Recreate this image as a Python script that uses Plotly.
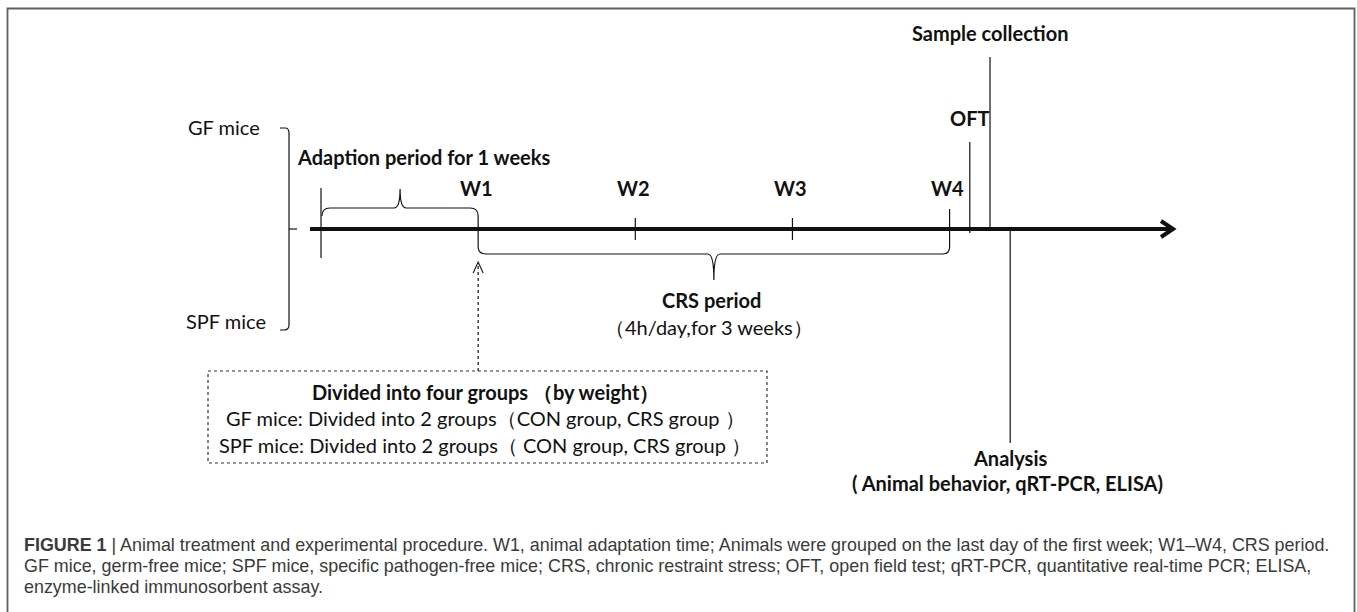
import plotly.graph_objects as go

# ---------------- content ----------------
week_labels = ["W1", "W2", "W3", "W4"]
week_days = [7, 14, 21, 28]
start_day = 0
oft_day = 28.9
sample_day = 29.8
analysis_day = 30.7

group_labels = ["GF mice", "SPF mice"]
adaption_text = "Adaption period for 1 weeks"
crs_title = "CRS period"
crs_sub = "（4h/day,for 3 weeks）"
box_lines = [
    "<b>Divided into four groups （by weight）</b>",
    "GF mice: Divided into 2 groups（CON group, CRS group ）",
    "SPF mice: Divided into 2 groups（ CON group, CRS group ）",
]
oft_text = "OFT"
sample_text = "Sample collection"
analysis_lines = ["Analysis", "( Animal behavior, qRT-PCR, ELISA)"]
caption_lines = [
    "<b>FIGURE 1</b> | Animal treatment and experimental procedure. W1, animal adaptation time; Animals were grouped on the last day of the first week; W1–W4, CRS period.",
    "GF mice, germ-free mice; SPF mice, specific pathogen-free mice; CRS, chronic restraint stress; OFT, open field test; qRT-PCR, quantitative real-time PCR; ELISA,",
    "enzyme-linked immunosorbent assay.",
]

# ---------------- layout helpers ----------------
W, H = 1357, 612
PX_PER_DAY = 22.45
X0 = 321.0
LINE_Y = 229


def dx(day):
    return X0 + PX_PER_DAY * day


FONT = "Lato, Calibri, Carlito, 'Noto Sans', sans-serif"
CAP_FONT = "'Liberation Sans', Arial, Helvetica, sans-serif"
INK = "#111111"
FS = 20

fig = go.Figure()
shapes = []
ann = []


def line(x0, y0, x1, y1, w=1.2, dash="solid", color=INK):
    shapes.append(dict(type="line", xref="x", yref="y", x0=x0, y0=y0, x1=x1, y1=y1,
                       line=dict(color=color, width=w, dash=dash)))


def path(d, w=1.2, color=INK, dash="solid"):
    shapes.append(dict(type="path", xref="x", yref="y", path=d,
                       line=dict(color=color, width=w, dash=dash)))


def text(x, y, s, size, bold=False, anchor="center", color=INK, family=FONT):
    ann.append(dict(x=x, y=y, xref="x", yref="y", text=(f"<b>{s}</b>" if bold else s),
                    showarrow=False, xanchor=anchor, yanchor="middle",
                    font=dict(family=family, size=size, color=color)))


# outer frame
shapes.append(dict(type="rect", xref="x", yref="y", x0=7.5, y0=8.5, x1=1354.5, y1=640,
                   line=dict(color="#5f5f5f", width=1.8)))

# main timeline + arrow head
xs, xe = 310, 1173
line(xs, LINE_Y, xe - 2, LINE_Y, w=4)
path(f"M {xe-12},{LINE_Y-8} L {xe},{LINE_Y} L {xe-12},{LINE_Y+8}", w=4)

# start tick
line(dx(start_day), 188, dx(start_day), 258)
# week ticks W2, W3
for d in week_days[1:3]:
    line(dx(d), 218, dx(d), 240)

# braces: adaption (up) + W1 link + CRS (down) + W4
a0, a1 = dx(start_day) + 1, dx(week_days[0])
am = (a0 + a1) / 2
c0, c1 = a1, dx(week_days[3])
cm = (c0 + c1) / 2
p = (f"M {a0},216 Q {a0},208 {a0+8},208 L {am-6},208 Q {am},208 {am},189 "
     f"Q {am},208 {am+6},208 L {a1-8},208 Q {a1},208 {a1},216 "
     f"L {c0},247 Q {c0},254 {c0+8},254 L {cm-6},254 Q {cm},254 {cm},280 "
     f"Q {cm},254 {cm+6},254 L {c1-7},254 Q {c1},254 {c1},247 L {c1},209")
path(p, w=1.2)

# week labels
for lab, d in zip(week_labels, week_days):
    text(dx(d) - 2, 188, lab, FS, bold=True)

text(295, 157, adaption_text, FS, bold=True, anchor="left")

# GF / SPF bracket
path("M 280,128 L 285,128 Q 289,128 289,133 L 289,325 Q 289,330 284,330 L 280,330", w=1.2)
line(289, LINE_Y, 297, LINE_Y, w=1.2)
text(262, 127, group_labels[0], FS, anchor="right")
text(268, 321, group_labels[1], FS, anchor="right")

# OFT, sample collection, analysis markers
line(dx(oft_day), 142, dx(oft_day), 233)
line(dx(sample_day), 57, dx(sample_day), LINE_Y)
line(dx(analysis_day), LINE_Y, dx(analysis_day), 443)
text(dx(oft_day), 118, oft_text, FS, bold=True)
text(dx(sample_day), 33, sample_text, FS, bold=True)
text(dx(analysis_day), 458, analysis_lines[0], FS, bold=True)
text(dx(analysis_day) - 3, 483, analysis_lines[1], FS, bold=True)

# CRS labels
text(cm - 2, 300, crs_title, FS, bold=True)
text(cm - 5, 327, crs_sub, FS)

# dotted arrow and dotted box
line(a1, 371, a1, 263, w=1.2, dash="dot")
path(f"M {a1-5},273 L {a1},262 L {a1+5},273", w=1.1)
shapes.append(dict(type="rect", xref="x", yref="y", x0=208, y0=371, x1=767, y1=463,
                   line=dict(color="#333333", width=1.2, dash="dot")))
for s, y in zip(box_lines, [392, 418, 445]):
    text(485, y, s, FS)

# caption
for s, y in zip(caption_lines, [545, 566, 587]):
    text(22, y, s, 17.9, anchor="left", color="#3a3a3a", family=CAP_FONT)

fig.update_layout(
    width=W, height=H, margin=dict(l=0, r=0, t=0, b=0),
    paper_bgcolor="white", plot_bgcolor="white",
    xaxis=dict(range=[0, W], visible=False, fixedrange=True),
    yaxis=dict(range=[H, 0], visible=False, fixedrange=True),
    shapes=shapes, annotations=ann, showlegend=False,
)
fig.write_html("out.html", config={"displayModeBar": False},
               post_script="document.body.style.margin='0';document.body.style.overflow='hidden';")
